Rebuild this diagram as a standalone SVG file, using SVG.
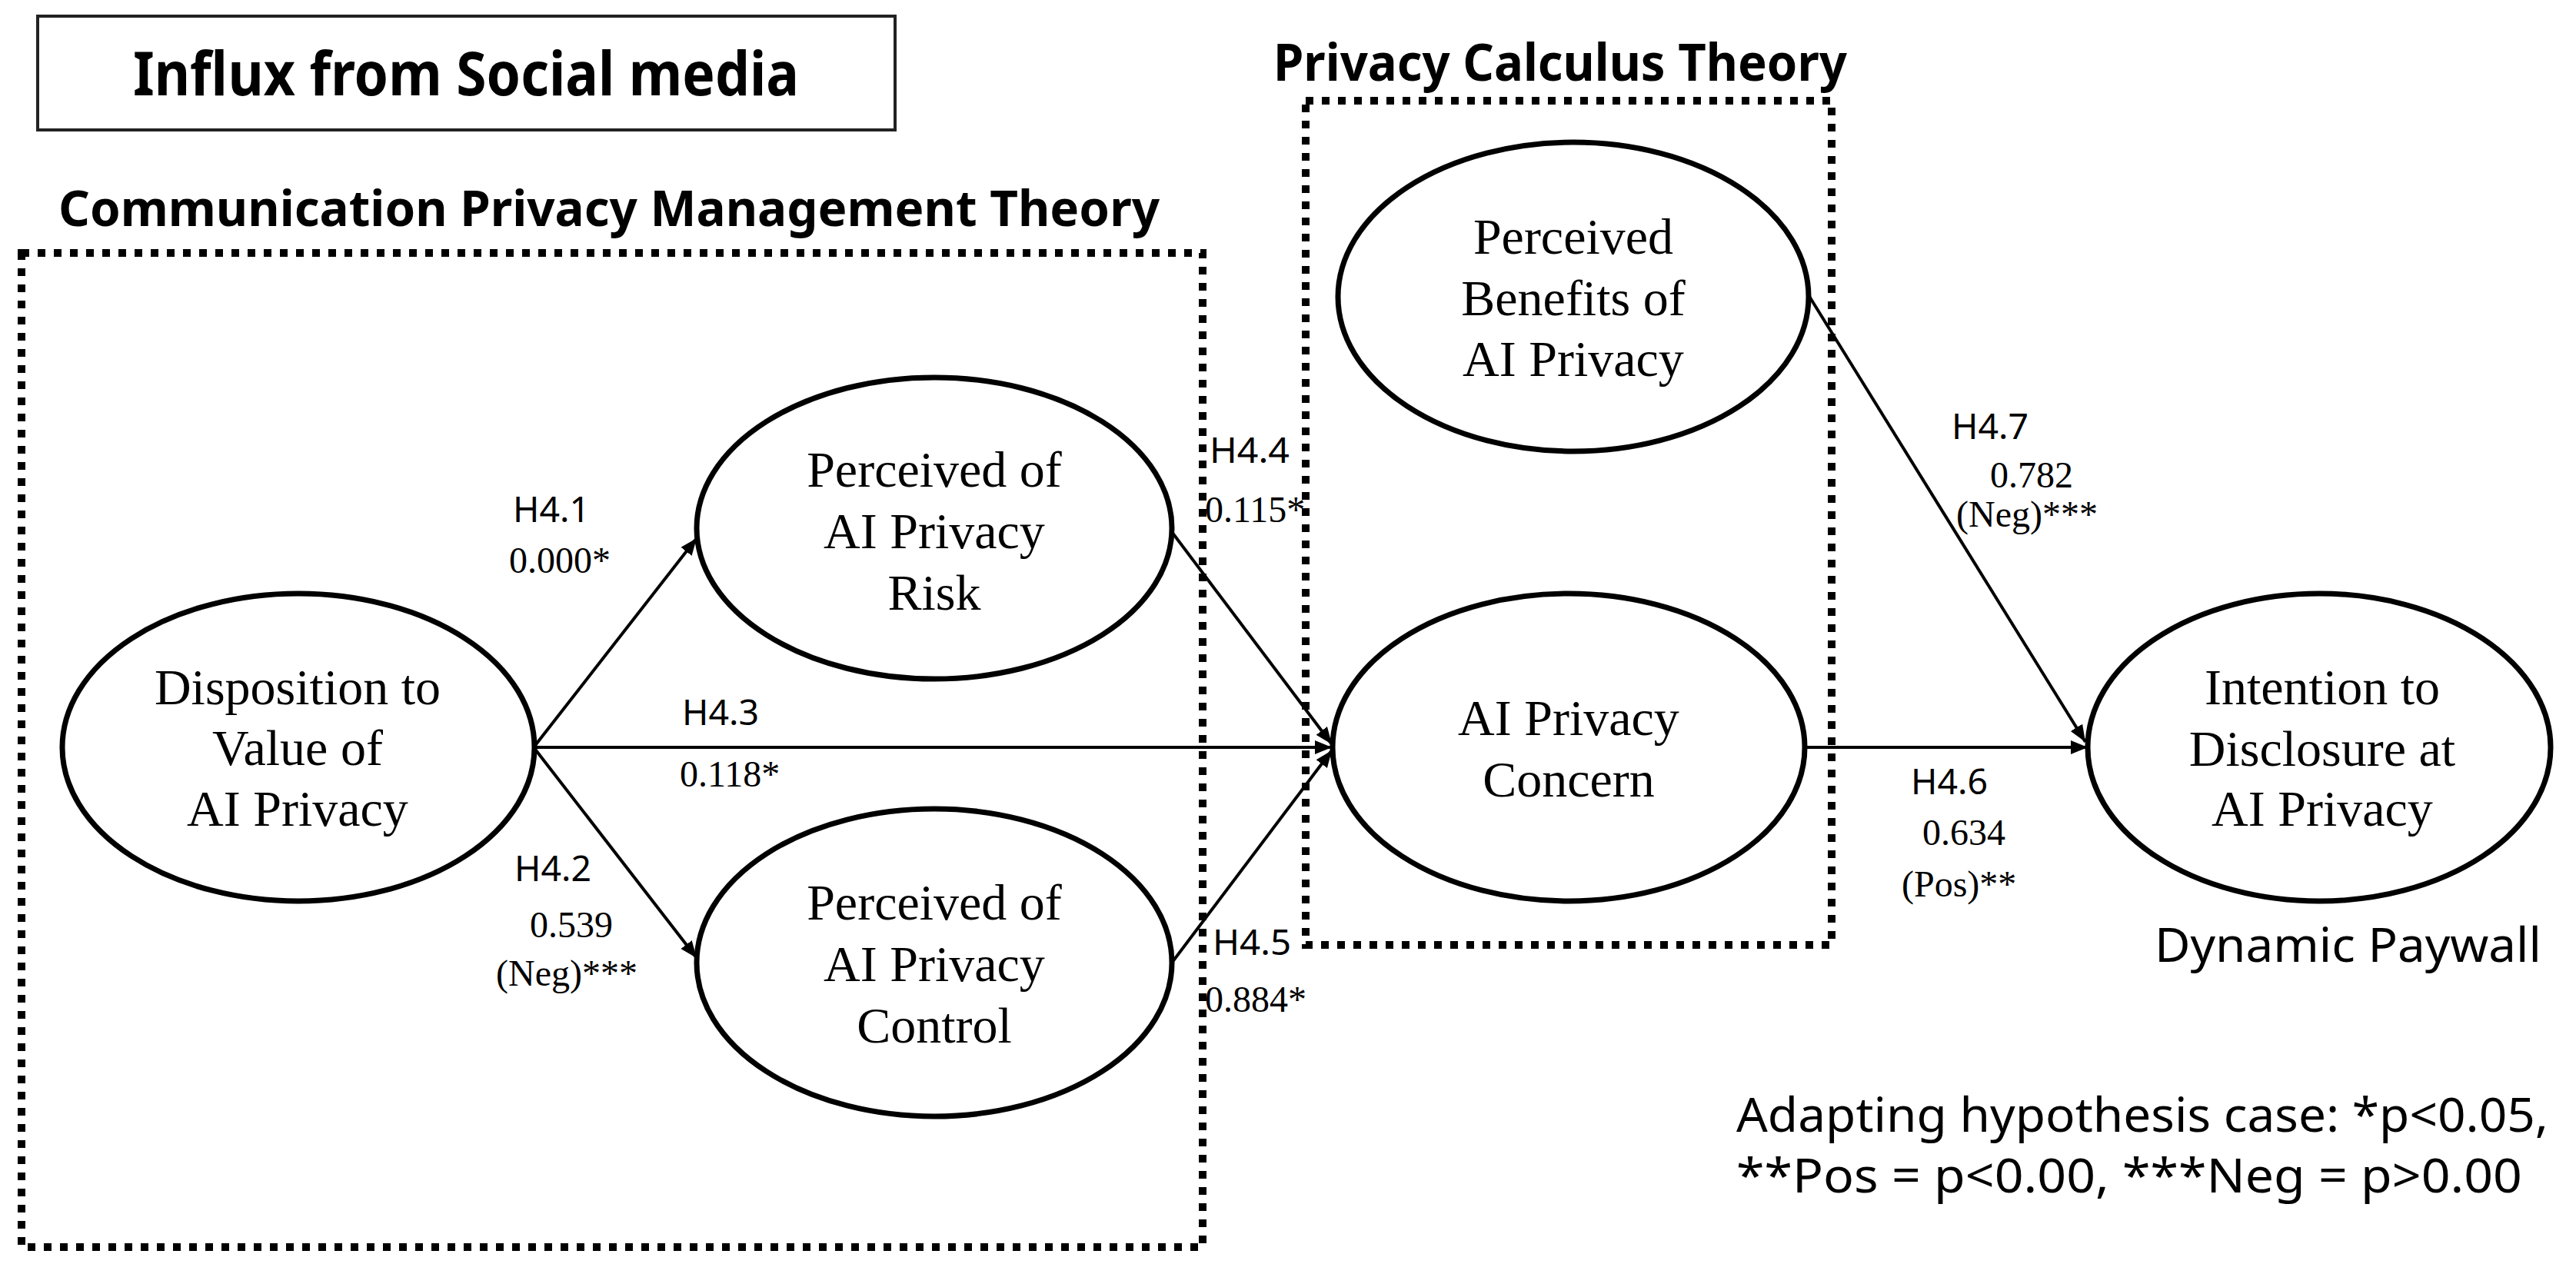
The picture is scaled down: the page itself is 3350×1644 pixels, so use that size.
<svg xmlns="http://www.w3.org/2000/svg" width="3350" height="1644" viewBox="0 0 3350 1644">
<style>
.node ellipse{fill:#fff;stroke:#000;stroke-width:7}
.et{font-family:"Liberation Serif","Times New Roman",serif;font-size:66px;text-anchor:middle;fill:#000}
.hd{font-family:"Noto Sans","Open Sans","Liberation Sans",sans-serif;font-weight:bold;fill:#000}
.sl{font-family:"Noto Sans","Open Sans","Liberation Sans",sans-serif;font-size:45px;fill:#000}
.nl{font-family:"Liberation Serif","Times New Roman",serif;font-size:48px;fill:#000}
.lg{font-family:"Noto Sans","Open Sans","Liberation Sans",sans-serif;font-size:62px;fill:#000}
.dot{fill:none;stroke:#000;stroke-width:10;stroke-dasharray:10 11}
.edge{stroke:#000;stroke-width:4;fill:none;marker-end:url(#arr)}
</style>
<defs>
<marker id="arr" markerUnits="userSpaceOnUse" markerWidth="24" markerHeight="20" refX="22" refY="9" orient="auto">
<path d="M0,0 L22,9 L0,18 z" fill="#000"/>
</marker>
</defs>
<rect width="3350" height="1644" fill="#fff"/>

<g id="title">
<rect x="49" y="21" width="1115" height="148" fill="#fff" stroke="#222" stroke-width="4"/>
<text class="hd" x="173" y="124" font-size="78" textLength="866" lengthAdjust="spacingAndGlyphs">Influx from Social media</text>
</g>

<g id="cpm-group">
<text class="hd" x="76" y="294" font-size="64" textLength="1432" lengthAdjust="spacingAndGlyphs">Communication Privacy Management Theory</text>
<rect class="dot" x="28" y="329" width="1536" height="1293"/>
</g>

<g id="pct-group">
<text class="hd" x="1656" y="105" font-size="67" textLength="746" lengthAdjust="spacingAndGlyphs">Privacy Calculus Theory</text>
<rect class="dot" x="1698" y="131" width="684" height="1098"/>
</g>

<g id="connectors">
<line class="edge" x1="694" y1="972" x2="906" y2="700"/>
<line class="edge" x1="694" y1="972" x2="906" y2="1246"/>
<line class="edge" x1="694" y1="972" x2="1732" y2="972"/>
<line class="edge" x1="1524" y1="692" x2="1732" y2="968"/>
<line class="edge" x1="1524" y1="1252" x2="1732" y2="976"/>
<line class="edge" x1="2347" y1="972" x2="2715" y2="972"/>
<line class="edge" x1="2352" y1="384" x2="2712" y2="965"/>
</g>

<g id="n-disposition" class="node">
<ellipse cx="388" cy="972" rx="307" ry="200"/>
<text class="et" x="387" y="916">Disposition to</text>
<text class="et" x="387" y="995">Value of</text>
<text class="et" x="387" y="1074">AI Privacy</text>
</g>

<g id="n-risk" class="node">
<ellipse cx="1215" cy="687" rx="309" ry="196"/>
<text class="et" x="1215" y="633">Perceived of</text>
<text class="et" x="1215" y="713">AI Privacy</text>
<text class="et" x="1215" y="793">Risk</text>
</g>

<g id="n-control" class="node">
<ellipse cx="1215" cy="1252" rx="309" ry="200"/>
<text class="et" x="1215" y="1196">Perceived of</text>
<text class="et" x="1215" y="1276">AI Privacy</text>
<text class="et" x="1215" y="1356">Control</text>
</g>

<g id="n-benefits" class="node">
<ellipse cx="2046" cy="386" rx="306" ry="201"/>
<text class="et" x="2046" y="330">Perceived</text>
<text class="et" x="2046" y="410">Benefits of</text>
<text class="et" x="2046" y="489">AI Privacy</text>
</g>

<g id="n-concern" class="node">
<ellipse cx="2040" cy="972" rx="307" ry="200"/>
<text class="et" x="2040" y="956">AI Privacy</text>
<text class="et" x="2040" y="1036">Concern</text>
</g>

<g id="n-intention" class="node">
<ellipse cx="3016" cy="972" rx="301" ry="200"/>
<text class="et" x="3020" y="916">Intention to</text>
<text class="et" x="3020" y="996">Disclosure at</text>
<text class="et" x="3020" y="1074">AI Privacy</text>
<text class="lg" x="2802" y="1251" font-size="60" textLength="503" lengthAdjust="spacingAndGlyphs">Dynamic Paywall</text>
</g>

<g id="edge-labels">
<text class="sl" x="667" y="679" textLength="100" lengthAdjust="spacingAndGlyphs">H4.1</text>
<text class="nl" x="662" y="745">0.000*</text>
<text class="sl" x="887" y="943" textLength="100" lengthAdjust="spacingAndGlyphs">H4.3</text>
<text class="nl" x="884" y="1023">0.118*</text>
<text class="sl" x="669" y="1146" textLength="100" lengthAdjust="spacingAndGlyphs">H4.2</text>
<text class="nl" x="689" y="1219">0.539</text>
<text class="nl" x="645" y="1282">(Neg)***</text>
<text class="sl" x="1573" y="602" textLength="104" lengthAdjust="spacingAndGlyphs">H4.4</text>
<text class="nl" x="1567" y="679">0.115*</text>
<text class="sl" x="1577" y="1242" textLength="102" lengthAdjust="spacingAndGlyphs">H4.5</text>
<text class="nl" x="1567" y="1316">0.884*</text>
<text class="sl" x="2538" y="571" textLength="100" lengthAdjust="spacingAndGlyphs">H4.7</text>
<text class="nl" x="2588" y="634">0.782</text>
<text class="nl" x="2544" y="685">(Neg)***</text>
<text class="sl" x="2485" y="1033" textLength="100" lengthAdjust="spacingAndGlyphs">H4.6</text>
<text class="nl" x="2500" y="1099">0.634</text>
<text class="nl" x="2473" y="1166">(Pos)**</text>
</g>

<g id="legend">
<text class="lg" x="2258" y="1472" textLength="1056" lengthAdjust="spacingAndGlyphs">Adapting hypothesis case: *p&lt;0.05,</text>
<text class="lg" x="2258" y="1551" textLength="1022" lengthAdjust="spacingAndGlyphs">**Pos = p&lt;0.00, ***Neg = p&gt;0.00</text>
</g>
</svg>
